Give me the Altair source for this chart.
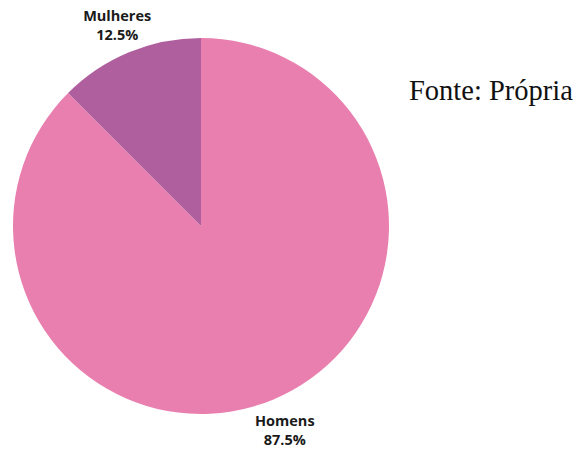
import altair as alt
import pandas as pd

categories = ["Homens", "Mulheres"]
values = [87.5, 12.5]
labels = ["87.5%", "12.5%"]
colors = ["#E97FAF", "#B05F9E"]

df = pd.DataFrame({
    "cat": categories,
    "val": values,
    "pct": labels,
    "ord": list(range(len(categories))),
})
df["label"] = [[c, p] for c, p in zip(df["cat"], df["pct"])]

CX, CY, R = 193, 218, 188

base = alt.Chart(df).encode(
    theta=alt.Theta("val:Q", stack=True),
    order=alt.Order("ord:Q"),
)

pie = base.mark_arc(outerRadius=R, stroke=None).encode(
    x=alt.value(CX),
    y=alt.value(CY),
    color=alt.Color("cat:N", scale=alt.Scale(domain=categories, range=colors), legend=None),
)

text = base.mark_text(
    radius=219, dy=-6.5, font="Open Sans", fontWeight="bold", fontSize=14.5,
    lineHeight=19, color="#1a1a1a", align="center", baseline="middle",
).encode(
    x=alt.value(CX),
    y=alt.value(CY),
    text="label",
)

source = alt.Chart(pd.DataFrame({"t": ["Fonte: Própria"]})).mark_text(
    font="Liberation Serif", fontSize=28.5, align="left", baseline="alphabetic", color="#111111",
).encode(x=alt.value(401), y=alt.value(92), text="t:N")

chart = alt.layer(pie, text, source).properties(
    width=566, height=444, padding=0,
    autosize=alt.AutoSizeParams(type="none"),
).configure_view(stroke=None)

chart.save("out.html", embed_options={"renderer": "svg", "actions": False})
